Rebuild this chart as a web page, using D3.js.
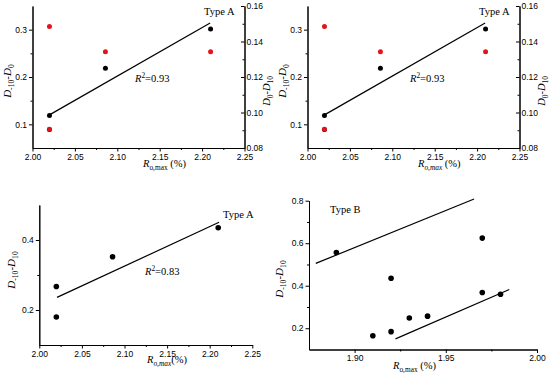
<!doctype html>
<html>
<head>
<meta charset="utf-8">
<script src="https://d3js.org/d3.v7.min.js"></script>
<style>
  body { margin: 0; background: #fff; }
  svg { font-family: "Liberation Serif", "Times New Roman", serif; }
  .tick text { font-size: 8.5px; fill: #000; }
  .domain, .tick line { stroke: #000; stroke-width: 1; }
</style>
</head>
<body>
<script>
// ---- data ----
// Type A, top panels
var ratioA = [2.02, 2.02, 2.086, 2.21];
var dNeg10D0 = [0.089, 0.1185, 0.2185, 0.3015];          // left axis, black
var ratioARed = [2.02, 2.02, 2.086, 2.21];
var d0D10 = [0.0905, 0.1485, 0.1342, 0.1342];            // right axis, red
var fitTopX = [2.02, 2.2095];
var fitTopY = [0.12, 0.314];

// Type A, bottom left panel
var dNeg10D10A = [0.18, 0.267, 0.352, 0.435];
var fitA2X = [2.0208, 2.211];
var fitA2Y = [0.236, 0.4506];

// Type B, bottom right panel
var ratioB = [1.89, 1.91, 1.92, 1.92, 1.93, 1.94, 1.97, 1.97, 1.98];
var dNeg10D10B = [0.556, 0.165, 0.435, 0.184, 0.248, 0.257, 0.624, 0.368, 0.36];
var fitB1X = [1.8787, 1.9655];
var fitB1Y = [0.505, 0.808];
var fitB2X = [1.9224, 1.9848];
var fitB2Y = [0.150, 0.382];

// ticks
var xTicksA = [2.00, 2.05, 2.10, 2.15, 2.20, 2.25];
var xMinorA = [2.025, 2.075, 2.125, 2.175, 2.225];
var yTicksTop = [0.1, 0.2, 0.3];
var yMinorTop = [0.15, 0.25];
var yTicksRight = [0.08, 0.10, 0.12, 0.14, 0.16];
var yMinorRight = [0.09, 0.11, 0.13, 0.15];
var yTicksA2 = [0.2, 0.4];
var yMinorA2 = [0.3];
var xTicksB = [1.90, 1.95, 2.00];
var xMinorB = [1.925, 1.975];
var yTicksB = [0.2, 0.4, 0.6, 0.8];
var yMinorB = [0.3, 0.5, 0.7];

var red = '#e3141c';

var svg = d3.select('body').append('svg')
    .attr('width', 550)
    .attr('height', 375);

// text with italic / sub / sup parts
function richText(x, y, rot, size, parts, anchor) {
  var t = svg.append('text')
      .attr('transform', 'translate(' + x + ',' + y + ') rotate(' + rot + ')')
      .attr('text-anchor', anchor || 'start')
      .style('font-size', size + 'px');
  var shift = 0;
  parts.forEach(function(p) {
    var s = p[1] || '';
    var small = s.indexOf('sub') >= 0 || s.indexOf('sup') >= 0;
    var target = s.indexOf('sub') >= 0 ? size * 0.3 : (s.indexOf('sup') >= 0 ? -size * 0.4 : 0);
    t.append('tspan')
      .attr('dy', target - shift)
      .style('font-size', (small ? size * 0.7 : size) + 'px')
      .style('font-style', s.indexOf('i') >= 0 ? 'italic' : 'normal')
      .text(p[0]);
    shift = target;
  });
  return t;
}

function drawAxis(axis, tx, ty) {
  var g = svg.append('g')
      .attr('transform', 'translate(' + tx + ',' + ty + ')')
      .call(axis);
  return g;
}

function panel(cfg) {
  var x = d3.scaleLinear().domain(cfg.xDomain).range(cfg.xRange);
  var y = d3.scaleLinear().domain(cfg.yDomain).range(cfg.yRange);
  var fmtX = d3.format('.2f');

  drawAxis(d3.axisBottom(x).tickValues(cfg.xTicks).tickFormat(fmtX)
      .tickSizeInner(3.5).tickSizeOuter(0).tickPadding(2), 0, cfg.yRange[0]);
  drawAxis(d3.axisBottom(x).tickValues(cfg.xMinor).tickFormat('')
      .tickSizeInner(2).tickSizeOuter(0), 0, cfg.yRange[0]);
  drawAxis(d3.axisLeft(y).tickValues(cfg.yTicks).tickFormat(d3.format(cfg.yFormat))
      .tickSizeInner(3.5).tickSizeOuter(0).tickPadding(2), cfg.xRange[0], 0);
  drawAxis(d3.axisLeft(y).tickValues(cfg.yMinor).tickFormat('')
      .tickSizeInner(2).tickSizeOuter(0), cfg.xRange[0], 0);

  var y2 = null;
  if (cfg.y2Domain) {
    y2 = d3.scaleLinear().domain(cfg.y2Domain).range(cfg.yRange);
    drawAxis(d3.axisRight(y2).tickValues(yTicksRight).tickFormat(d3.format('.2f'))
        .tickSizeInner(-3.5).tickSizeOuter(0).tickPadding(2), cfg.xRange[1], 0);
    drawAxis(d3.axisRight(y2).tickValues(yMinorRight).tickFormat('')
        .tickSizeInner(-2).tickSizeOuter(0), cfg.xRange[1], 0);
  }

  var line = d3.line()
      .x(function(d) { return x(d[0]); })
      .y(function(d) { return y(d[1]); });
  cfg.fits.forEach(function(f) {
    svg.append('path')
      .datum(d3.zip(f[0], f[1]))
      .attr('d', line)
      .attr('fill', 'none')
      .attr('stroke', '#000')
      .attr('stroke-width', 1.2);
  });

  svg.append('g').selectAll('circle')
    .data(d3.zip(cfg.px, cfg.py))
    .enter().append('circle')
    .attr('cx', function(d) { return x(d[0]); })
    .attr('cy', function(d) { return y(d[1]); })
    .attr('r', cfg.r)
    .attr('fill', '#000');

  if (y2) {
    svg.append('g').selectAll('circle')
      .data(d3.zip(ratioARed, d0D10))
      .enter().append('circle')
      .attr('cx', function(d) { return x(d[0]); })
      .attr('cy', function(d) { return y2(d[1]); })
      .attr('r', cfg.r)
      .attr('fill', red);
  }
  return x;
}

// ---- top left and top right (same content) ----
[0, 275].forEach(function(dx, i) {
  var sub = i === 1 ? 'sub i' : 'sub';
  panel({
    xDomain: [2.00, 2.25], xRange: [32.5 + dx, 244.5 + dx],
    yDomain: [0.05, 0.35], yRange: [148, 6],
    y2Domain: [0.08, 0.16],
    xTicks: xTicksA, xMinor: xMinorA,
    yTicks: yTicksTop, yMinor: yMinorTop, yFormat: '.1f',
    px: ratioA, py: dNeg10D0, r: 2.5,
    fits: [[fitTopX, fitTopY]]
  });
  richText(204 + dx, 15, 0, 10.5, [['Type A']]);
  richText(135 + dx, 82, 0, 10.5, [['R', 'i'], ['2', 'sup'], ['=0.93']]);
  richText(143 + dx, 167, 0, 10.5, [['R', 'i'], ['o,max', sub], [' (%)']]);
  richText(10.5 + dx, 81, -90, 11, [['D', 'i'], ['-10', 'sub'], ['-'], ['D', 'i'], ['0', 'sub']], 'middle');
  richText(269.5 + dx, 91, -90, 10.5, [['D', 'i'], ['0', 'sub'], ['-'], ['D', 'i'], ['10', 'sub']], 'middle');
});

// ---- bottom left: Type A ----
panel({
  xDomain: [2.00, 2.25], xRange: [39.3, 252.3],
  yDomain: [0.1, 0.5], yRange: [345, 205],
  xTicks: xTicksA, xMinor: xMinorA,
  yTicks: yTicksA2, yMinor: yMinorA2, yFormat: '.1f',
  px: ratioA, py: dNeg10D10A, r: 2.8,
  fits: [[fitA2X, fitA2Y]]
});
richText(223, 218, 0, 10.5, [['Type A']]);
richText(145, 275, 0, 10.5, [['R', 'i'], ['2', 'sup'], ['=0.83']]);
richText(147, 363, 0, 10.5, [['R', 'i'], ['o,max', 'sub i'], ['(%)']]);
richText(15, 270, -90, 11, [['D', 'i'], ['-10', 'sub'], ['-'], ['D', 'i'], ['10', 'sub']], 'middle');

// ---- bottom right: Type B ----
panel({
  xDomain: [1.875, 2.00], xRange: [309, 537],
  yDomain: [0.1, 0.8], yRange: [349.5, 200.7],
  xTicks: xTicksB, xMinor: xMinorB,
  yTicks: yTicksB, yMinor: yMinorB, yFormat: '.1f',
  px: ratioB, py: dNeg10D10B, r: 2.8,
  fits: [[fitB1X, fitB1Y], [fitB2X, fitB2Y]]
});
richText(330, 213, 0, 10.5, [['Type B']]);
richText(393, 369, 0, 10.5, [['R', 'i'], ['o,max', 'sub'], [' (%)']]);
richText(283, 279, -90, 11, [['D', 'i'], ['-10', 'sub'], ['-'], ['D', 'i'], ['10', 'sub']], 'middle');
</script>
</body>
</html>
